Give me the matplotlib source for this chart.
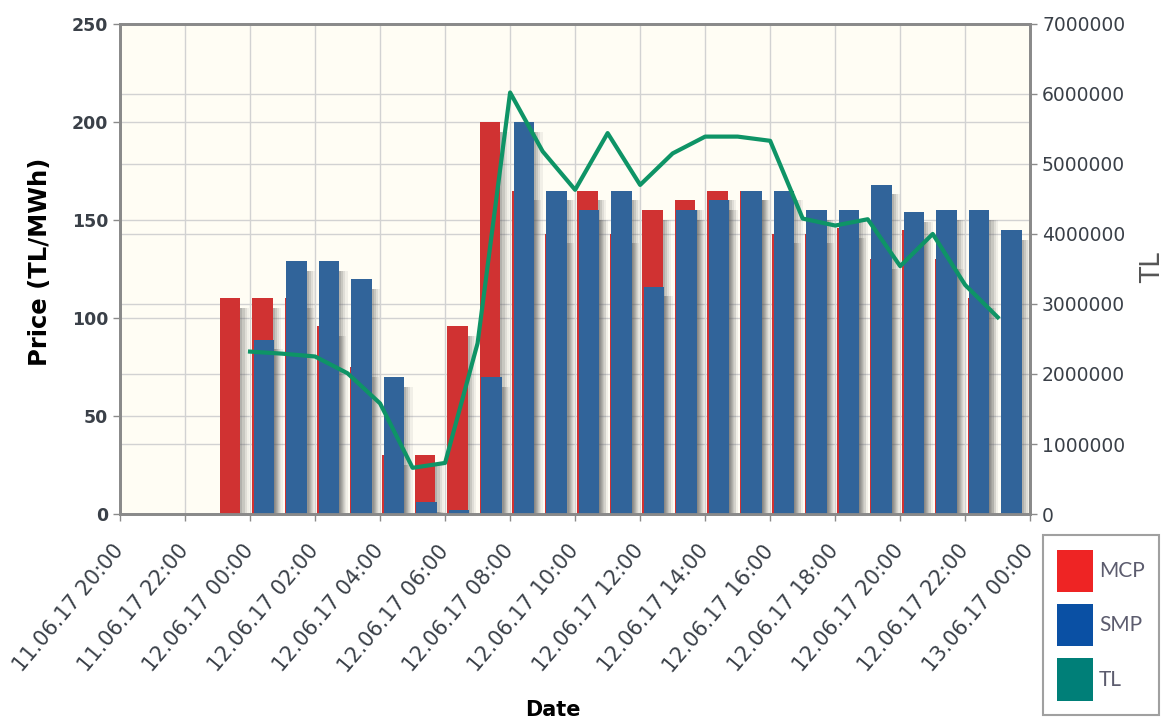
import numpy as np
import matplotlib.pyplot as plt
from matplotlib.patches import Patch

# hours counted from 11.06.17 20:00
tick_labels = ["11.06.17 20:00", "11.06.17 22:00", "12.06.17 00:00", "12.06.17 02:00",
               "12.06.17 04:00", "12.06.17 06:00", "12.06.17 08:00", "12.06.17 10:00",
               "12.06.17 12:00", "12.06.17 14:00", "12.06.17 16:00", "12.06.17 18:00",
               "12.06.17 20:00", "12.06.17 22:00", "13.06.17 00:00"]
mcp_hours = np.arange(3, 27)
mcp = [110, 110, 110, 96, 75, 30, 30, 96, 200, 165, 143, 165,
       143, 155, 160, 165, 165, 143, 143, 146, 130, 145, 130, 110]
smp_hours = np.arange(4, 28)
smp = [89, 129, 129, 120, 70, 6, 2, 70, 200, 165, 155, 165,
       116, 155, 160, 165, 165, 155, 155, 168, 154, 155, 155, 145]
tl_hours = np.arange(4, 28)
tl = [2320000, 2290000, 2250000, 2010000, 1580000, 660000, 730000, 2440000,
      6020000, 5180000, 4630000, 5440000, 4700000, 5150000, 5390000, 5390000,
      5330000, 4220000, 4120000, 4210000, 3540000, 4000000, 3270000, 2810000]

red = '#d03232'
blue = '#31649a'
green = '#0e9466'
txt = '#3a4048'

fig = plt.figure(figsize=(11.73, 7.23), dpi=100)
ax = fig.add_axes([0.1023, 0.289, 0.776, 0.678])
ax.set_facecolor('#fffdf4')
ax2 = ax.twinx()

w = 0.63
# soft shadows right of the bars
for k, a in enumerate([0.45, 0.32, 0.19, 0.08]):
    off = w + 0.065 * k
    ax.bar(mcp_hours + 0.07 + off, np.array(mcp) - 5, width=0.065, align='edge',
           color='#555555', alpha=a, linewidth=0, zorder=2)
    ax.bar(smp_hours + 0.11 + off, np.array(smp) - 5, width=0.065, align='edge',
           color='#555555', alpha=a, linewidth=0, zorder=2)
ax.bar(mcp_hours + 0.07, mcp, width=w, align='edge', color=red, linewidth=0, zorder=3)
ax.bar(smp_hours + 0.11, smp, width=w, align='edge', color=blue, linewidth=0, zorder=4)

ax.set_xlim(0, 28)
ax.set_ylim(0, 250)
ax.set_yticks(np.arange(0, 251, 50))
ax.set_xticks(np.arange(0, 29, 2))
ax.set_xticklabels(tick_labels, rotation=50, ha='right', va='center', rotation_mode='anchor')

ax2.plot(tl_hours, tl, color=green, lw=3, zorder=5)
ax2.set_ylim(0, 7000000)
ax2.set_yticks(np.arange(0, 7000001, 1000000))
ax2.set_yticklabels([str(v) for v in range(0, 7000001, 1000000)])

ax.set_zorder(1)
ax2.set_zorder(2)
ax2.patch.set_visible(False)

# grid lines for both axes
ax.grid(True, color='#d2d2d2', lw=1, zorder=0)
ax.set_axisbelow(True)
for v in range(1000000, 7000001, 1000000):
    ax.axhline(v / 7000000 * 250, color='#d2d2d2', lw=1, zorder=0)

for a in (ax, ax2):
    for s in a.spines.values():
        s.set_color('#8a8a8a')
        s.set_linewidth(2)
    a.tick_params(colors='#8a8a8a', labelcolor=txt, length=5, width=1)
ax.tick_params(axis='x', pad=19, labelsize=15)
ax.tick_params(axis='y', labelsize=12.5)
for lab in ax.get_yticklabels():
    lab.set_fontweight('bold')
ax2.tick_params(axis='y', labelsize=13.5)

ax.set_ylabel("Price (TL/MWh)", fontsize=17.5, fontweight='bold', color='black', va='center')
ax.yaxis.set_label_coords(-0.088, 0.514)
ax.set_xlabel("Date", fontsize=15, fontweight='bold', color='black', va='center')
ax.xaxis.set_label_coords(0.476, -0.40)
ax2.set_ylabel("TL", fontsize=19, color='#555555', va='center')
ax2.yaxis.set_label_coords(1.135, 0.502)

handles = [Patch(facecolor='#ee2424', edgecolor='none', label='MCP'),
           Patch(facecolor='#0a50a4', edgecolor='none', label='SMP'),
           Patch(facecolor='#007f78', edgecolor='none', label='TL')]
leg = fig.legend(handles=handles, loc='upper left', bbox_to_anchor=(0.889, 0.26),
                 borderaxespad=0, frameon=True, fancybox=False, edgecolor='#888888',
                 prop={'family': 'Lato', 'size': 15},
                 handlelength=1.7, handleheight=2.75, labelspacing=0.58,
                 borderpad=0.7, handletextpad=0.3)
leg.get_frame().set_linewidth(1.5)
for t in leg.get_texts():
    t.set_color('#5c5c6e')

fig.savefig('out.png', dpi=100)
